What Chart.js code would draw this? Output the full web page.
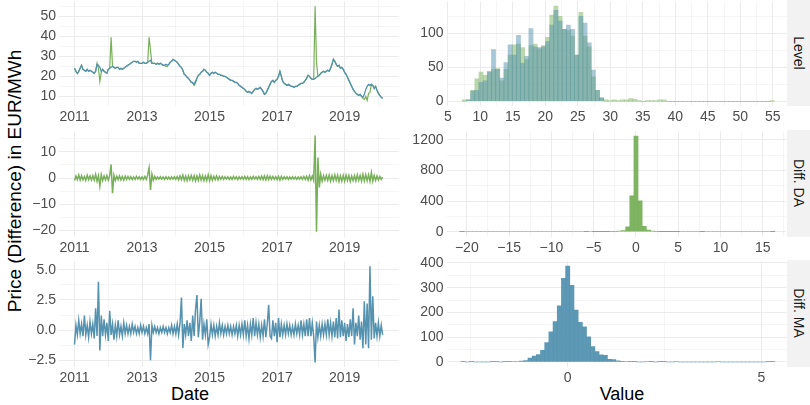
<!DOCTYPE html>
<html><head><meta charset="utf-8">
<script src="https://cdn.jsdelivr.net/npm/chart.js@4.4.1/dist/chart.umd.min.js"></script>
<style>
html,body{margin:0;padding:0;background:#fff}
body{width:810px;height:405px;position:relative;overflow:hidden;font-family:"Liberation Sans",Arial,sans-serif}
.t{position:absolute;white-space:nowrap;color:#000;font-size:18px;transform:translate(-50%,-50%)}
.strip{position:absolute;left:787px;width:23px;background:#F2F2F2}
.strip span{position:absolute;left:50%;top:50%;transform:translate(-50%,-50%) rotate(90deg);white-space:nowrap;font-size:14px;color:#1A1A1A}
canvas{position:absolute}
</style></head>
<body>
<div class="t" style="left:15px;top:181px;font-size:19px;transform:translate(-50%,-50%) rotate(-90deg)">Price (Difference) in EUR/MWh</div>
<div class="t" style="left:190px;top:394px">Date</div>
<div class="t" style="left:622px;top:394px">Value</div>
<div class="strip" style="top:0;height:106px"><span>Level</span></div>
<div class="strip" style="top:130px;height:106.5px"><span>Diff. DA</span></div>
<div class="strip" style="top:260px;height:106.8px"><span>Diff. MA</span></div>
<script>
// ---------- DATA ----------
const seriesNames = ['DA', 'MA'];
const tsStartYear = 2011;
const tsPerYear = 24;

const levelMA = [
 24,22.5,21.5,22.5,24,25.5,23.5,23,22.5,23.5,22.5,23,22.5,22,21.5,22.5,26,25.5,24.5,22.5,23.5,22.5,22,21.5,
 23.5,24,24.5,25,24.5,24,24.5,24.5,23.5,24,23.5,24,24.5,25,25.5,26,26.5,27,27.5,27.5,27,27.5,26.5,26.5,
 26.5,27,26.5,26.5,27,27.5,28,26.5,26.5,26.5,26,26.5,26,26.5,26,25.5,25.5,26,25.5,26,27,27.5,28.5,28,
 27.5,27,26,25,24.5,23,21,20.5,19.5,19,18,17,17,16,17.5,19,20.5,21,22,22.5,23.5,23,22,21.5,
 20.5,21.5,22,21.5,22,21.5,21,21,20.5,20.5,20,20,19.5,19,18.5,18,18,17.5,17,17,16.5,15.5,15,14.5,
 14,13.5,12.5,12,12.5,12,11.5,12.5,13.5,14,13.5,14,14.5,13.5,12.5,11,11.5,13,14.5,16,17.5,18,17,18,
 18.5,20,22.5,20,17.5,16.5,16,15.5,16,15.5,15,15,14.5,15,15,15.5,16,16.5,16.5,17,18,19,20.5,20,
 19,18.5,18.5,19,19.5,20,20.5,21.5,22,22.5,22,22.5,23,22.5,24,26,28.5,27.5,26,25,25.5,24,24.5,23.5,
 22,21,19.5,18,16.5,15,13.5,12.5,11.5,11,10.5,11,10,9.5,11,13.5,15,16,15.5,16,15.5,14,15,13,
 11.5,10.5,9.5,9
];
const levelDA = [
 24,22.5,21.5,22.5,24,25.5,23.5,23,22.5,23.5,22.5,23,22.5,22,21.5,22.5,26.5,24,17.5,22,23.5,22.5,22,21.5,
 23.5,24,39.5,25,24.5,24,24.5,24.5,23.5,24,23.5,24,24.5,25,25.5,26,26.5,27,27.5,27.5,27,27.5,26.5,26.5,
 26.5,27,26.5,26.5,27,39.5,33,26.5,26.5,26.5,26,26.5,26,26.5,26,25.5,25.5,25,25,26,27,27.5,28.5,28,
 27.5,27,26,25,24.5,23,21,20.5,19.5,19,18,17,16.5,15.5,16.5,19,20.5,21,22,22.5,23.5,23,22,21.5,
 20.5,21.5,22,21.5,22,21.5,21,21,20.5,20.5,20,20,19.5,19,18.5,18,18,17.5,17,17,16.5,15.5,15,14.5,
 14,13.5,12.5,12,12.5,12,11.5,12.5,13.5,14,13.5,14,14.5,13.5,12.5,11,11.5,13,14.5,16,17.5,18,17,18,
 18.5,20,22.5,20,17.5,16.5,16,15.5,16,15.5,15,15,14.5,15,15,15.5,16,16.5,16.5,17,18,19,20.5,20,
 19,18.5,18.5,55,27,20,20.5,21.5,22,22.5,22,22.5,23,22.5,24,26,28.5,27.5,26,25,25.5,24,24.5,23.5,
 22,21,19.5,18,16.5,15,13.5,12.5,11.5,11,10.5,11,10,9,8.5,10,8,11.5,12,16,15.5,14,15,13,
 11.5,10.5,9.5,9
];
const diffDA = [
 -0.9,0.8,-0.6,1.2,-0.8,0.9,-0.7,0.6,-0.9,1.1,-0.6,0.8,-0.7,0.9,-0.8,1.4,-1.2,0.9,-3,1.3,-0.9,0.8,-0.7,1.0,
 -0.8,0.9,5.2,-5.8,1.1,-0.9,0.7,-0.6,0.8,-0.7,0.6,-0.8,0.7,-0.5,0.6,-0.5,0.5,-0.6,0.4,-0.5,0.6,-0.4,0.5,-0.5,
 0.4,-0.5,0.6,-0.5,1.2,3.9,-4.5,1.5,-0.8,0.6,-0.5,0.4,-0.4,0.5,-0.4,0.4,-0.5,0.5,-0.4,0.4,-0.5,0.4,-0.4,0.5,
 -0.5,0.6,-0.7,0.8,-0.6,1.1,-0.9,0.8,-1.0,0.9,-0.7,1.0,-0.8,0.9,-1.1,0.8,-0.9,1.2,-0.8,0.9,-1.0,0.8,-0.9,1.3,
 -1.0,0.9,-0.8,0.7,-0.6,0.8,-0.7,0.6,-0.5,0.6,-0.5,0.5,-0.4,0.5,-0.5,0.4,-0.5,0.6,-0.4,0.5,-0.6,0.5,-0.4,0.5,
 -0.5,0.6,-0.5,0.5,-0.6,0.4,-0.5,0.6,-0.4,0.5,-0.5,0.6,-0.5,0.7,-0.6,0.8,-0.7,0.9,-0.6,0.7,-0.5,0.6,-0.5,0.5,
 -0.6,0.7,-0.8,0.6,-0.5,0.5,-0.4,0.5,-0.5,0.4,-0.4,0.5,-0.4,0.4,-0.5,0.4,-0.4,0.5,-0.5,0.6,-0.5,0.7,-0.8,0.9,
 -0.7,0.8,-0.9,16.2,-20.5,7.8,-3.6,1.5,-1.2,0.9,-0.8,1.0,-0.9,1.1,-1.2,0.9,-1.0,1.2,-0.9,1.1,-1.3,0.9,-1.1,1.0,
 -1.2,1.1,-0.9,1.0,-1.3,0.8,-1.0,0.9,-1.1,1.2,-0.9,1.0,-1.2,1.4,-1.1,1.3,-1.0,1.2,-1.3,2.1,-1.2,1.0,-0.9,0.8,
 -0.7,0.6,-0.5,0.4
];
const diffMA = [
 -1.2,0.4,-0.4,0.8,-0.3,0.5,-0.5,1.2,-0.4,0.4,-0.6,0.7,-0.3,0.5,-0.7,1.8,-0.5,4.0,-1.7,1.2,-0.5,0.9,-0.4,0.6,
 -0.9,1.6,-0.4,0.5,-0.8,0.4,-0.5,0.8,-0.4,0.3,-0.5,0.6,-0.3,0.4,-0.3,0.3,-0.3,0.5,-0.2,0.3,-0.3,0.2,-0.3,0.4,
 -0.2,0.3,-0.3,0.2,-0.3,0.5,-2.5,0.4,-0.2,0.3,-0.2,0.2,-0.3,0.2,-0.2,0.3,-0.2,0.2,-0.3,0.2,-0.2,0.4,-0.3,0.3,
 -0.3,0.5,-0.4,0.6,2.7,-1.5,0.5,-0.4,0.8,-0.5,0.6,-0.9,1.2,-0.5,1.7,2.9,-0.6,0.7,2.6,-0.8,0.5,-0.4,0.9,-1.2,
 -0.6,0.5,-0.4,0.4,-0.5,0.3,-0.4,0.6,-0.3,0.4,-0.4,0.3,-0.3,0.4,-0.3,0.3,-0.4,0.3,-0.3,0.4,-0.5,0.4,-0.4,0.5,
 -0.4,0.8,-0.5,0.4,-0.7,0.5,-0.4,1.0,-0.5,0.6,-0.4,0.5,-0.6,0.4,-0.5,0.9,-0.6,0.5,2.1,-0.5,-0.7,0.8,-0.5,0.6,
 -1.0,1.0,-0.6,0.5,-0.4,0.4,-0.4,0.5,-0.3,0.4,-0.4,0.3,-0.4,0.5,-0.3,0.4,-0.4,0.8,-0.4,0.5,-0.5,0.9,-0.5,1.0,
 -0.5,0.6,-0.5,-2.7,0.7,-0.6,0.4,-0.5,0.5,-0.4,0.5,-0.4,0.9,-0.4,0.6,-0.5,0.7,-0.6,1.0,-0.7,1.7,-0.6,0.8,-0.5,
 0.6,-0.9,0.5,-0.6,0.9,-0.5,1.8,-1.2,0.6,-0.5,1.2,-0.8,0.7,-1.5,2.4,-1.2,2.2,-1.5,5.3,-0.8,2.8,-0.7,0.6,-0.5,
 0.6,-0.5,0.4,-0.4
];

// histogram bins (first bin centre + bin width), counts
const levelBinStart = 7.55, levelBinWidth = 0.64;
const levelHistDA = [2,2,16,33,43,38,44,47,48,30,47,68,83,84,79,62,82,84,77,82,94,127,140,125,106,104,96,68,131,96,80,36,16,5,2,
 1,2,1,2,2,4,3,1,0,1,1,1,2,2,
 0,0,0,0,0,0,0,0,0,0,0,0,0,0,0,0,0,0,0,0,0,0,0,0,0,1];
const levelHistMA = [0,2,15,16,28,30,43,76,47,34,57,83,68,97,56,66,107,80,79,80,88,112,134,118,106,112,106,68,125,115,86,46,16,5,0,
 0,0,0,0,0,0,0,0,0,0,0,0,0,0,0,0,0,0,0,0,0,0,0,0,0,0,0,0,0,0,0,0,0,0,0,0,0,0,0,0];
const diffDABinStart = -20.58, diffDABinWidth = 0.49;
const diffDAHist = [1,0,0,0,0,0,0,0,0,0,0,0,0,0,0,0,0,0,0,0,0,0,0,0,0,0,0,0,0,0,
 1,0,1,1,2,2,3,4,7,15,65,470,1250,405,72,20,7,3,2,2,2,1,1,0,0,0,0,0,1,
 0,0,0,0,0,0,0,0,0,0,0,0,0,0,0,0,1];
const diffMABinStart = -2.7, diffMABinWidth = 0.108;
const diffMAHist = [1,0,1,0,0,0,0,1,1,0, 1,3,2,2,4,6,16,24,30,47, 78,122,163,227,338,387,310,210,160,142,
 102,62,42,29,27,11,10,5,3,2, 1,1,0,0,2,1,0,1,1,0, 0,2,0,0,0,0,0,0,0,0, 0,2,0,0,0,0,0,0,0,0, 0,0,0,1,1];

// tick labels
const yearMajor = [2011, 2013, 2015, 2017, 2019];
const yearAll = [2011,2012,2013,2014,2015,2016,2017,2018,2019,2020];

// ---------- HELPERS ----------
const GREEN = '#78B05A', BLUE = '#5492B0';
const MINUS = '\u2212';
Chart.defaults.font.family = '"Liberation Sans", Arial, sans-serif';
Chart.defaults.font.size = 14;
Chart.defaults.color = '#4D4D4D';
Chart.defaults.animation = false;

const dates = levelMA.map((_, i) => tsStartYear + i / tsPerYear);
const toXY = (xs, ys) => ys.map((y, i) => ({x: xs[i], y}));
const bins = (start, w, counts) => counts.map((c, i) => ({x: start + i * w, y: c}));

function fmtNum(v, dec) {
  const s = Math.abs(v).toFixed(dec);
  return (v < -1e-9 ? MINUS : '') + s;
}
function axis(min, max, all, majors, dec, extra) {
  const isMaj = v => majors.some(m => Math.abs(m - v) < 1e-6);
  return Object.assign({
    type: 'linear', min, max, offset: false,
    afterBuildTicks: s => { s.ticks = all.map(v => ({value: v})); },
    grid: {
      drawTicks: false, offset: false,
      color: '#EBEBEB',
      lineWidth: c => (c.tick && isMaj(c.tick.value)) ? 1 : 0.5
    },
    border: {display: false},
    ticks: {
      autoSkip: false, maxRotation: 0, minRotation: 0, padding: 3, color: '#4D4D4D',
      callback: v => isMaj(v) ? fmtNum(v, dec) : ''
    }
  }, extra || {});
}
function range(a, b, step) { const r = []; for (let v = a; v <= b + 1e-9; v += step) r.push(+v.toFixed(6)); return r; }

function panel(left, width, yW, padR, areaTop, areaH, type, datasets, xAxis, yAxis) {
  const padT = 10, xH = 22;
  const h = Math.ceil(padT + areaH + xH);
  const realXH = h - padT - areaH;
  const c = document.createElement('canvas');
  c.width = width; c.height = h;
  c.style.left = left + 'px'; c.style.top = (areaTop - padT) + 'px';
  c.style.width = width + 'px'; c.style.height = h + 'px';
  document.body.appendChild(c);
  xAxis.position = 'bottom';
  xAxis.afterFit = s => { s.height = realXH; };
  yAxis.position = 'left';
  yAxis.afterFit = s => { s.width = yW; };
  return new Chart(c, {
    type,
    data: {datasets},
    options: {
      responsive: false, devicePixelRatio: 1, animation: false,
      layout: {padding: {top: padT, left: 0, right: padR, bottom: 0}},
      plugins: {legend: {display: false}, tooltip: {enabled: false}},
      elements: {point: {radius: 0}, line: {tension: 0}},
      scales: {x: xAxis, y: yAxis}
    }
  });
}
const lineDS = (data, color, w) => ({data, borderColor: color, borderWidth: w, pointRadius: 0, fill: false});
const barDS = (data, color) => ({data, backgroundColor: color, borderWidth: 0, barPercentage: 1, categoryPercentage: 1, grouped: false});

const xYears = () => axis(2010.54, 2020.61, yearAll, yearMajor, 0);

// Row 1: Level
panel(0, 400, 59, 1, 0, 106, 'line',
  [lineDS(toXY(dates, levelMA), BLUE, 1.3), lineDS(toXY(dates, levelDA), GREEN, 1.2)],
  xYears(), axis(5.2, 57.4, range(10, 55, 5), [10,20,30,40,50], 0));
panel(400, 387, 46.5, 0.5, 0, 106, 'bar',
  [barDS(bins(levelBinStart, levelBinWidth, levelHistMA), 'rgba(84,146,176,0.5)'),
   barDS(bins(levelBinStart, levelBinWidth, levelHistDA), 'rgba(120,176,90,0.5)')],
  axis(4.8, 57.1, range(5, 55, 2.5), range(5, 55, 5), 0), axis(-7, 147, range(0, 125, 25), [0,50,100], 0));

// Row 2: Diff. DA
panel(0, 400, 59, 1, 130, 106.5, 'line',
  [lineDS(toXY(dates, diffDA), GREEN, 1.5)],
  xYears(), axis(-22.3, 17.8, range(-20, 15, 5), [-20,-10,0,10], 0));
panel(400, 387, 46.5, 0.5, 130, 106.5, 'bar',
  [barDS(bins(diffDABinStart, diffDABinWidth, diffDAHist), 'rgba(120,176,90,0.95)')],
  axis(-22.4, 17.7, range(-20, 17.5, 2.5), range(-20, 15, 5), 0), axis(-62.5, 1312.5, range(0, 1200, 200), [0,400,800,1200], 0));

// Row 3: Diff. MA
panel(0, 400, 59, 1, 260, 106.8, 'line',
  [lineDS(toXY(dates, diffMA), BLUE, 1.5)],
  xYears(), axis(-3.05, 5.7, range(-2.5, 5, 1.25), [-2.5,0,2.5,5], 1));
panel(400, 387, 46.5, 0.5, 260, 106.8, 'bar',
  [barDS(bins(diffMABinStart, diffMABinWidth, diffMAHist), 'rgba(84,146,176,0.95)')],
  axis(-3.13, 5.65, [-2.5,0,2.5,5], [0,5], 0), axis(-19.4, 406.4, range(0, 400, 50), [0,100,200,300,400], 0));
</script>
</body></html>
